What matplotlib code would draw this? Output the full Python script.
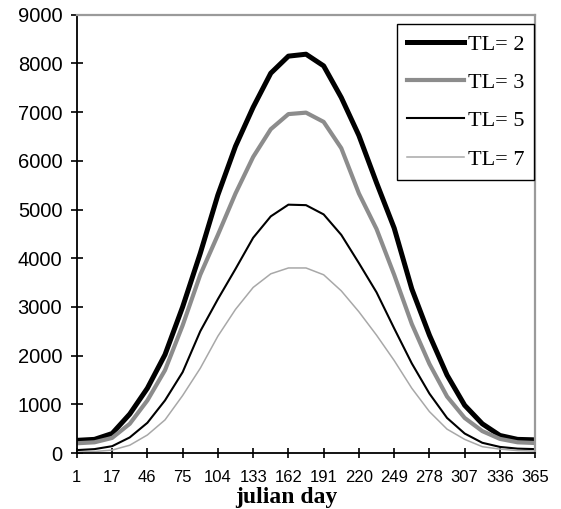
import numpy as np
import matplotlib.pyplot as plt

# tick labels (julian day) - categorical axis, evenly spaced
days = ['1', '17', '46', '75', '104', '133', '162', '191', '220', '249', '278', '307', '336', '365']

# values read every half category step (27 points per series)
tl2 = [260, 280, 400, 800, 1330, 2020, 3000, 4100, 5300, 6300, 7100, 7800, 8150, 8190,
       7950, 7300, 6520, 5550, 4620, 3370, 2420, 1600, 980, 600, 360, 280, 270]
tl3 = [200, 220, 310, 600, 1080, 1700, 2620, 3660, 4480, 5330, 6080, 6650, 6960, 6990,
       6800, 6260, 5330, 4600, 3660, 2650, 1830, 1160, 720, 450, 290, 220, 205]
tl5 = [60, 80, 140, 320, 620, 1080, 1660, 2500, 3160, 3780, 4420, 4860, 5100, 5090,
       4900, 4480, 3900, 3300, 2560, 1840, 1220, 720, 400, 210, 125, 90, 80]
tl7 = [20, 30, 60, 160, 370, 680, 1180, 1740, 2400, 2950, 3400, 3680, 3800, 3800,
       3660, 3330, 2900, 2420, 1900, 1330, 850, 490, 280, 130, 80, 50, 40]

x = np.arange(len(tl2)) * 0.5

fig = plt.figure(figsize=(5.61, 5.09), dpi=100)
ax = fig.add_axes([0.137, 0.110, 0.817, 0.861])

ax.plot(x, tl2, color='black', lw=3.6, label='TL= 2', solid_joinstyle='round')
ax.plot(x, tl3, color='#8c8c8c', lw=3.0, label='TL= 3', solid_joinstyle='round')
ax.plot(x, tl5, color='black', lw=1.5, label='TL= 5', solid_joinstyle='round')
ax.plot(x, tl7, color='#a8a8a8', lw=1.1, label='TL= 7', solid_joinstyle='round')

ax.set_xlim(0, 13)
ax.set_ylim(0, 9000)
ax.set_xticks(range(len(days)))
ax.set_xticklabels(days, family=['Liberation Sans Narrow', 'Liberation Sans'], fontsize=12)
ax.set_yticks(range(0, 9001, 1000))
ax.set_yticklabels([str(v) for v in range(0, 9001, 1000)], family='Liberation Sans', fontsize=14.5)
ax.tick_params(axis='y', direction='inout', length=9, width=1.2, pad=6)
ax.tick_params(axis='x', direction='inout', length=7, width=1.2, pad=9)

# spines: black left/bottom, gray border top/right
for s in ['left', 'bottom']:
    ax.spines[s].set_color('black')
    ax.spines[s].set_linewidth(1.3)
for s in ['top', 'right']:
    ax.spines[s].set_color('#9a9a9a')
    ax.spines[s].set_linewidth(1.6)

ax.set_xlabel('julian day', family='Liberation Serif', fontweight='bold', fontsize=17)
ax.xaxis.set_label_coords(0.458, -0.078)

leg = ax.legend(loc='upper right', bbox_to_anchor=(0.998, 0.979), borderaxespad=0,
                prop={'family': 'Liberation Serif', 'size': 16}, handlelength=2.6,
                handletextpad=0.15, labelspacing=0.8, borderpad=0.45,
                fancybox=False, framealpha=1, edgecolor='black')
leg.get_frame().set_linewidth(1.0)

fig.savefig('out.png', dpi=100)
